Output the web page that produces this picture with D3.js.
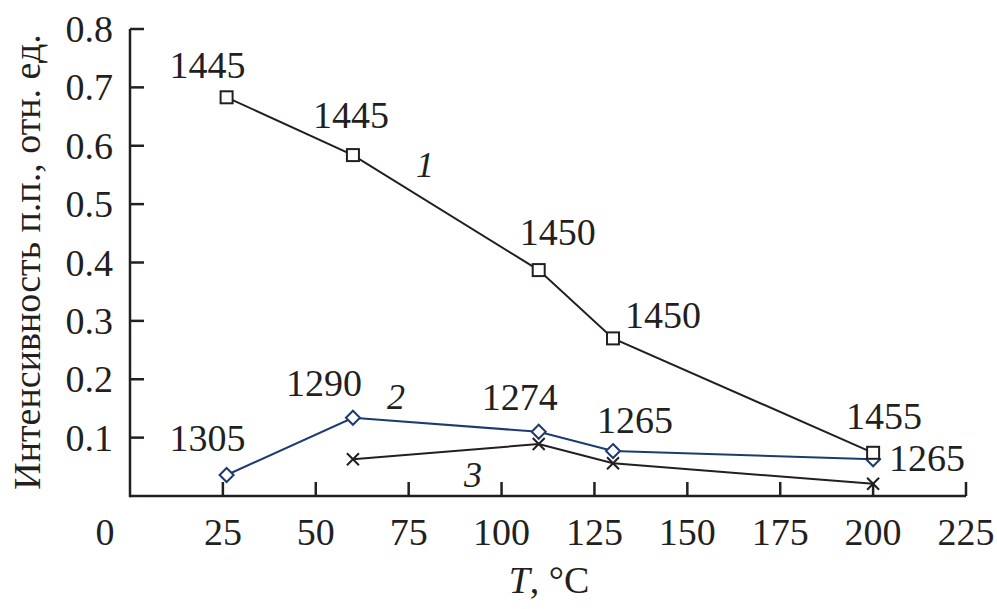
<!DOCTYPE html>
<html><head><meta charset="utf-8"><script src="https://cdn.jsdelivr.net/npm/d3@7"></script></head>
<body style="margin:0">
<svg width="997" height="609" style="font-family: 'Times New Roman'"></svg>
<script>
// temperatures, C
var temps1 = [26, 60, 110, 130, 200];
var temps2 = [26, 60, 110, 130, 200];
var temps3 = [60, 110, 130, 200];

// intensities, rel. units
var curve1 = [0.683, 0.584, 0.387, 0.270, 0.074];
var curve2 = [0.036, 0.134, 0.110, 0.077, 0.063];
var curve3 = [0.063, 0.089, 0.056, 0.021];

// band positions, cm-1
var bands1 = ["1445", "1445", "1450", "1450", "1455"];
var bands2 = ["1305", "1290", "1274", "1265", "1265"];

var xTicks = [25, 50, 75, 100, 125, 150, 175, 200, 225];
var yTicks = [0.1, 0.2, 0.3, 0.4, 0.5, 0.6, 0.7, 0.8];

// curve numbers, placed in data units
var curveNames = ["1", "2", "3"];
var curveNameX = [79.4, 71.6, 92.3];
var curveNameY = [0.567, 0.17, 0.036];

var svg = d3.select("svg");

var x = d3.scaleLinear().domain([0, 225]).range([130, 966]);
var y = d3.scaleLinear().domain([0, 0.8]).range([496, 29]);

var ink = "#231f20", blue = "#1d3b70";

// every text gets the same serif face
function label(parent, txt, px, py, size) {
    return parent.append("text")
        .attr("x", px).attr("y", py)
        .style("font-family", "'Times New Roman'")
        .style("font-size", (size || 38) + "px")
        .style("fill", ink)
        .attr("text-anchor", "middle")
        .text(txt);
}

// axes drawn from the scales, ticks pointing inwards
var axes = svg.append("g").attr("stroke", ink).attr("stroke-width", 2.5);
axes.append("line").attr("x1", x(0)).attr("x2", x(225)).attr("y1", y(0)).attr("y2", y(0));
axes.append("line").attr("x1", x(0)).attr("x2", x(0)).attr("y1", y(0.8)).attr("y2", y(0) + 1.25);
axes.selectAll(".xt").data(xTicks).enter().append("line")
    .attr("x1", function(d) { return x(d); }).attr("x2", function(d) { return x(d); })
    .attr("y1", y(0)).attr("y2", y(0) - 14);
axes.selectAll(".yt").data(yTicks).enter().append("line")
    .attr("x1", x(0)).attr("x2", x(0) + 14)
    .attr("y1", function(d) { return y(d); }).attr("y2", function(d) { return y(d); });

xTicks.forEach(function(d) { label(svg, String(d), x(d), y(0) + 49); });
label(svg, "0", 105, y(0) + 49);
yTicks.forEach(function(d) {
    label(svg, d3.format(".1f")(d), x(0) - 17, y(d) + 13).attr("text-anchor", "end");
});

// axis titles
label(svg, "Интенсивность п.п., отн. ед.", 0, 0)
    .attr("transform", "translate(40,262) rotate(-90)");

var xt = label(svg, "", 549, 593);
xt.append("tspan").style("font-style", "italic").text("T");
xt.append("tspan").text(", °C");

var line = d3.line()
    .x(function(d) { return x(d[0]); })
    .y(function(d) { return y(d[1]); });

var pts1 = d3.zip(temps1, curve1),
    pts2 = d3.zip(temps2, curve2),
    pts3 = d3.zip(temps3, curve3);

// curve 3 (crosses)
svg.append("path").datum(pts3)
    .attr("d", line).attr("fill", "none").attr("stroke", ink).attr("stroke-width", 2);
svg.selectAll(".cross").data(pts3).enter().append("path")
    .attr("class", "cross")
    .attr("transform", function(d) { return "translate(" + x(d[0]) + "," + y(d[1]) + ")"; })
    .attr("d", "M-6,-6L6,6M-6,6L6,-6")
    .attr("stroke", ink).attr("stroke-width", 2).attr("fill", "none");

// curve 2 (diamonds)
svg.append("path").datum(pts2)
    .attr("d", line).attr("fill", "none").attr("stroke", blue).attr("stroke-width", 2);
svg.selectAll(".diamond").data(pts2).enter().append("path")
    .attr("class", "diamond")
    .attr("transform", function(d) { return "translate(" + x(d[0]) + "," + y(d[1]) + ")"; })
    .attr("d", "M0,-7L7,0L0,7L-7,0Z")
    .attr("fill", "#fff").attr("stroke", blue).attr("stroke-width", 2);

// curve 1 (squares)
svg.append("path").datum(pts1)
    .attr("d", line).attr("fill", "none").attr("stroke", ink).attr("stroke-width", 2);
svg.selectAll(".square").data(pts1).enter().append("rect")
    .attr("class", "square")
    .attr("x", function(d) { return x(d[0]) - 6; })
    .attr("y", function(d) { return y(d[1]) - 6; })
    .attr("width", 12).attr("height", 12)
    .attr("fill", "#fff").attr("stroke", ink).attr("stroke-width", 2);

// band labels, offsets in px from their point (centre of text)
var off1 = [[-19, -32], [-2, -40], [19, -38], [50, -23], [11, -37]];
var off2 = [[-19, -37], [-29, -35], [-19, -35], [22, -31], [54, -1]];

pts1.forEach(function(d, i) {
    label(svg, bands1[i], x(d[0]) + off1[i][0], y(d[1]) + off1[i][1] + 13);
});
pts2.forEach(function(d, i) {
    label(svg, bands2[i], x(d[0]) + off2[i][0], y(d[1]) + off2[i][1] + 13);
});

curveNames.forEach(function(d, i) {
    label(svg, d, x(curveNameX[i]), y(curveNameY[i]) + 12, 36).style("font-style", "italic");
});
</script>
</body></html>
